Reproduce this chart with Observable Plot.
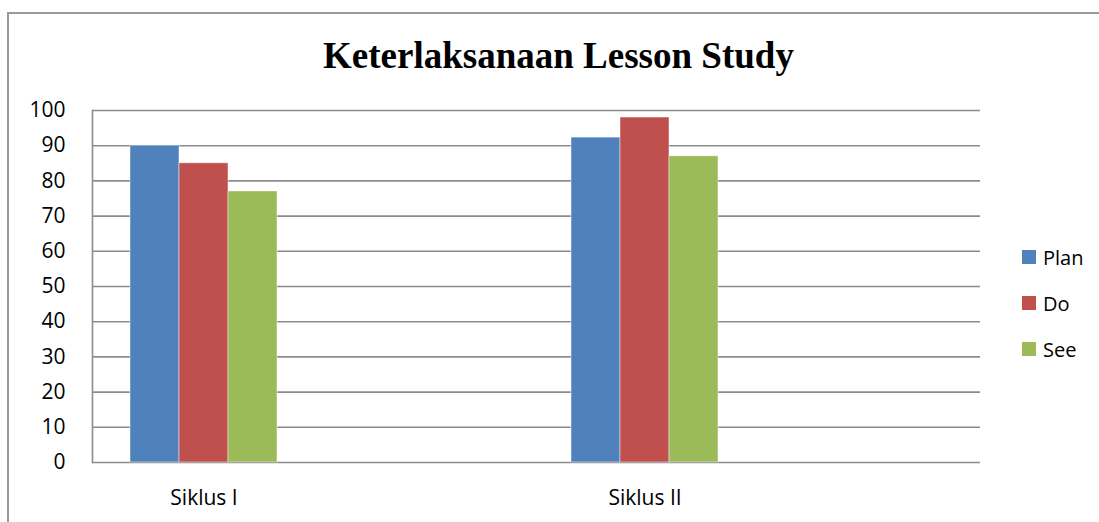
<!DOCTYPE html>
<html>
<head>
<meta charset="utf-8">
<script src="https://cdn.jsdelivr.net/npm/d3@7"></script>
<script src="https://cdn.jsdelivr.net/npm/@observablehq/plot@0.6"></script>
<style>
  html, body { margin: 0; padding: 0; background: #fff; width: 1099px; height: 522px; overflow: hidden; }
  #wrap { position: relative; width: 1099px; height: 522px; }
  #border { position: absolute; left: 7px; top: 12px; width: 1200px; height: 600px;
            border-left: 2px solid #9a9a9a; border-top: 2px solid #9a9a9a; pointer-events: none; }
  #title { height: 95px; box-sizing: border-box; padding-left: 18px; padding-top: 37px;
           text-align: center; font-family: "Liberation Serif", "Times New Roman", serif;
           font-weight: bold; font-size: 37px; line-height: 37px; color: #000; }
  #legend { position: absolute; left: 1022px; top: 234px; font-family: "Open Sans", sans-serif;
            font-size: 20px; color: #000; }
  .item { display: flex; align-items: center; height: 46px; }
  .sw { width: 14px; height: 14px; margin-right: 7px; }
</style>
</head>
<body>
<div id="wrap">
  <div id="border"></div>
  <div id="title">Keterlaksanaan Lesson Study</div>
  <div id="chart"></div>
  <div id="legend"></div>
</div>
<script>
const categories = ["Siklus I", "Siklus II"];
const series = ["Plan", "Do", "See"];
const planValues = [90, 92.3];
const doValues = [85, 98];
const seeValues = [77, 87];
const colors = ["#4F81BD", "#C0504D", "#9BBB59"];
const yTicks = [0, 10, 20, 30, 40, 50, 60, 70, 80, 90, 100];

const valuesBySeries = [planValues, doValues, seeValues];
const key = (c, s) => c + "|" + s;
const data = [];
categories.forEach((c, i) => {
  series.forEach((s, j) => data.push({cycle: c, series: s, key: key(c, s), value: valuesBySeries[j][i]}));
});
// band domain: bars of each category, with empty slots between the groups
const gapSlots = 6;
const xDomain = [];
categories.forEach((c, i) => {
  series.forEach(s => xDomain.push(key(c, s)));
  if (i < categories.length - 1) for (let g = 0; g < gapSlots; g++) xDomain.push("gap" + i + "_" + g);
});

const font = '"Open Sans", sans-serif';
const chart = Plot.plot({
  width: 1099,
  height: 427,
  marginTop: 15,
  marginBottom: 60,
  marginLeft: 92,
  marginRight: 119,
  style: {fontFamily: font, fontSize: "21px", color: "#000", background: "#fff"},
  x: {domain: xDomain, paddingInner: 0, paddingOuter: 3, align: 0.125, axis: null},
  y: {domain: [0, 100], label: null, axis: null},
  color: {domain: series, range: colors},
  marks: [
    Plot.ruleY(yTicks, {stroke: "#8c8c8c", strokeWidth: 1.6}),
    Plot.barY(data, {x: "key", y: "value", fill: "series", stroke: "#fff", strokeOpacity: 0.45, strokeWidth: 1}),
    Plot.frame({anchor: "left", stroke: "#8c8c8c", strokeWidth: 1.6}),
    Plot.axisY({ticks: yTicks, tickSize: 0, tickPadding: 27, fontSize: 21, label: null}),
    Plot.axisX({ticks: categories.map(c => key(c, series[1])), tickFormat: k => k.split("|")[0],
                tickSize: 0, tickPadding: 28, fontSize: 21, label: null})
  ]
});
document.getElementById("chart").appendChild(chart);

const legend = document.getElementById("legend");
series.forEach((s, j) => {
  const item = document.createElement("div");
  item.className = "item";
  const sw = document.createElement("span");
  sw.className = "sw";
  sw.style.background = colors[j];
  const label = document.createElement("span");
  label.textContent = s;
  item.appendChild(sw);
  item.appendChild(label);
  legend.appendChild(item);
});
</script>
</body>
</html>
